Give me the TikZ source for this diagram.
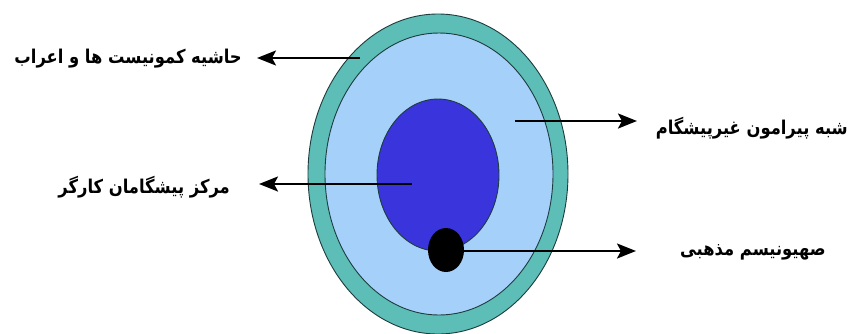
\documentclass[tikz,border=0pt]{standalone}
\usepackage{fontspec}
\usepackage{xcolor}
\usetikzlibrary{arrows.meta,positioning}
\TeXXeTstate=1
\newfontfamily\arabicfont[Script=Arabic,FakeStretch=0.86]{DejaVu Sans}
\definecolor{ringTeal}{RGB}{92,190,182}
\definecolor{bodySky}{RGB}{164,208,250}
\definecolor{coreBlue}{RGB}{58,52,220}
\definecolor{edgeDark}{RGB}{30,60,62}
\newcommand{\fa}[1]{\arabicfont\bfseries\beginR #1\endR}

\begin{document}
\begin{tikzpicture}[x=1pt,y=-1pt,
    layer/.style={draw=edgeDark,line width=0.9pt},
    pointer/.style={line width=2.4pt,-{Stealth[length=19pt,width=15pt,inset=4pt]}},
    lbl/.style={font=\fontsize{19}{23}\selectfont,inner sep=0pt}]
  \useasboundingbox (0,0) rectangle (852,333);
  \fill[white] (0,0) rectangle (852,333);
  \begin{scope}
    \clip (0,0) rectangle (852,333);
    % layers of the egg
    \draw[layer,fill=ringTeal] (438,174) ellipse [x radius=130,y radius=160];
    \draw[layer,fill=bodySky] (439,174) ellipse [x radius=114,y radius=141];
    \draw[layer,fill=coreBlue] (438,175) ellipse [x radius=61,y radius=76];
    \fill[black] (446,250) ellipse [x radius=18,y radius=22];
  \end{scope}
  % labels
  \node[lbl,anchor=east] (rim) at (242,59) {\fa{حاشیه کمونیست ها و اعراب}};
  \node[lbl,anchor=east] (semi) at (848,128) {\fa{شبه پیرامون غیرپیشگام}};
  \node[lbl,anchor=east] (core) at (230,187) {\fa{مرکز پیشگامان کارگر}};
  \node[lbl,anchor=west] (zion) at (680,252) {\fa{صهیونیسم مذهبی}};
  % pointers
  \coordinate (rimpt) at (360,58);
  \coordinate (rimtip) at (257,58);
  \coordinate (semipt) at (515,121);
  \coordinate (semitip) at (637,121);
  \coordinate (corept) at (412,184);
  \coordinate (coretip) at (259,184);
  \coordinate (zionpt) at (463,251);
  \coordinate (ziontip) at (636,251);
  \draw[pointer] (rimpt) -- (rimtip);
  \draw[pointer] (semipt) -- (semitip);
  \draw[pointer] (corept) -- (coretip);
  \draw[pointer] (zionpt) -- (ziontip);
\end{tikzpicture}
\end{document}
